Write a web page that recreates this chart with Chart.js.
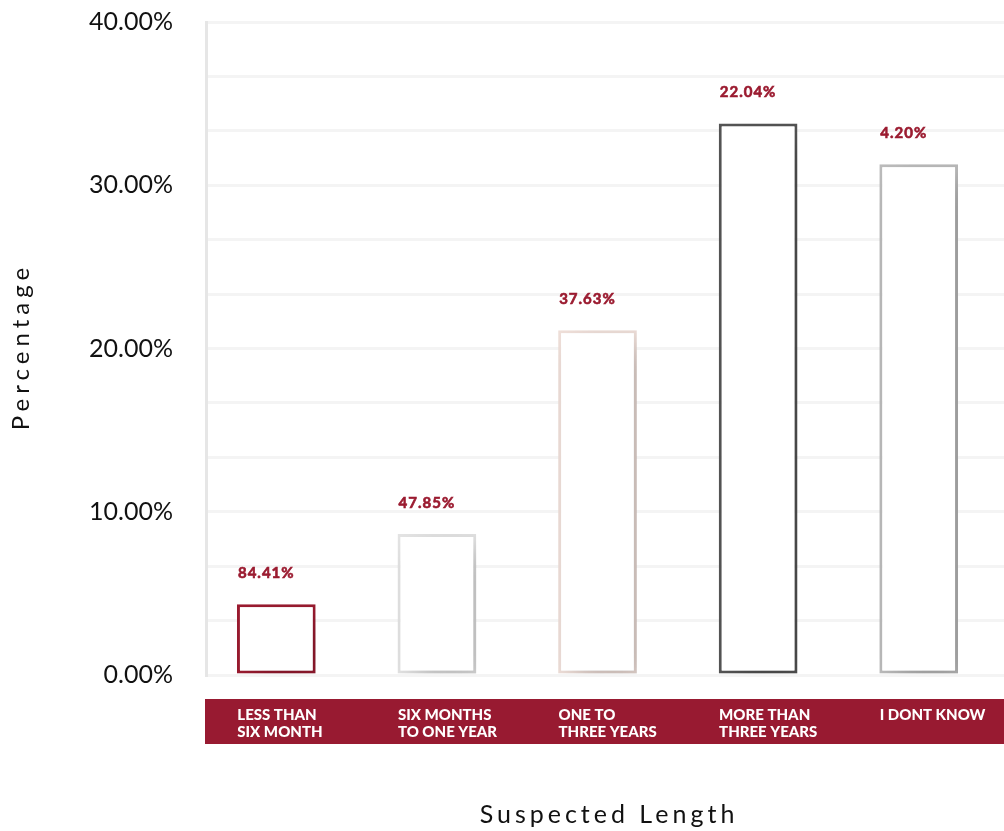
<!DOCTYPE html>
<html>
<head>
<meta charset="utf-8">
<script src="https://cdn.jsdelivr.net/npm/chart.js@4/dist/chart.umd.min.js"></script>
<style>
  html, body { margin: 0; padding: 0; background: #fff; }
  #wrap { width: 1004px; height: 831px; position: relative; }
</style>
</head>
<body>
<div id="wrap"><canvas id="chart"></canvas></div>
<script>
// Data
const categories = [
    ['LESS THAN', 'SIX MONTH'],
    ['SIX MONTHS', 'TO ONE YEAR'],
    ['ONE TO', 'THREE YEARS'],
    ['MORE THAN', 'THREE YEARS'],
    ['I DONT KNOW']
];
const values = [4.33, 8.64, 21.12, 33.79, 31.28];
const valueLabels = ['84.41%', '47.85%', '37.63%', '22.04%', '4.20%'];
const borderColors = ['#9b1b30', '#e4e4e4', '#efdfd9', '#555555', '#bcbcbc'];
const yTickLabels = [0, 10, 20, 30, 40];

const RED = '#981a31';
const FONT = 'Lato, "Noto Sans", sans-serif';

const shadowPlugin = {
    id: 'barShadow',
    beforeDatasetsDraw(chart) {
        const ctx = chart.ctx;
        ctx.save();
        ctx.shadowColor = 'rgba(0,0,0,0.2)';
        ctx.shadowBlur = 30;
        ctx.shadowOffsetX = 14;
        ctx.shadowOffsetY = 12;
    },
    afterDatasetsDraw(chart) {
        chart.ctx.restore();
    }
};

// the bars sit a little left of the y axis line in the original
const xRangePlugin = {
    id: 'xRange',
    afterLayout(chart) {
        const x = chart.scales.x;
        x.left = chart.chartArea.left - 10;
        x.right = chart.chartArea.right - 5;
        x.configure();
    }
};

const bandPlugin = {
    id: 'categoryBand',
    beforeDraw(chart) {
        const { ctx, chartArea } = chart;
        ctx.save();
        ctx.fillStyle = RED;
        ctx.fillRect(chartArea.left - 1, 699, chart.width - chartArea.left + 1, 45);
        ctx.restore();
    }
};

const valueLabelPlugin = {
    id: 'valueLabels',
    afterDatasetsDraw(chart) {
        const ctx = chart.ctx;
        const meta = chart.getDatasetMeta(0);
        ctx.save();
        ctx.font = 'bold 15px ' + FONT;
        ctx.fillStyle = '#9b1b30';
        ctx.strokeStyle = '#9b1b30';
        ctx.lineWidth = 0.6;
        ctx.textBaseline = 'alphabetic';
        ctx.textAlign = 'left';
        ctx.letterSpacing = '1px';
        meta.data.forEach((bar, i) => {
            const x = bar.x - bar.width / 2 + 1;
            ctx.fillText(valueLabels[i], x, bar.y - 26);
            ctx.strokeText(valueLabels[i], x, bar.y - 26);
        });
        ctx.restore();
    }
};

const axisTitlePlugin = {
    id: 'axisTitles',
    afterDraw(chart) {
        const { ctx, chartArea } = chart;
        ctx.save();
        ctx.fillStyle = '#111';
        ctx.textAlign = 'center';
        ctx.textBaseline = 'middle';
        ctx.font = '25px ' + FONT;
        ctx.letterSpacing = '4px';
        ctx.fillText('Suspected Length', (chartArea.left + chartArea.right) / 2 + 4, 815);
        ctx.translate(21, (chartArea.top + chartArea.bottom) / 2 - 2);
        ctx.rotate(-Math.PI / 2);
        ctx.letterSpacing = '5px';
        ctx.font = '24px ' + FONT;
        ctx.fillText('Percentage', 0, 0);
        ctx.restore();
    }
};

new Chart(document.getElementById('chart'), {
    type: 'bar',
    data: {
        labels: categories,
        datasets: [{
            data: values,
            backgroundColor: '#ffffff',
            borderColor: borderColors,
            borderWidth: 3,
            borderSkipped: false,
            categoryPercentage: 1,
            barPercentage: 0.49
        }]
    },
    options: {
        responsive: true,
        maintainAspectRatio: false,
        animation: false,
        layout: { padding: 0 },
        plugins: {
            legend: { display: false },
            tooltip: { enabled: false }
        },
        scales: {
            x: {
                grid: { display: false, drawTicks: false },
                border: { display: false },
                ticks: {
                    color: '#ffffff',
                    font: { family: FONT, size: 15, weight: '900', lineHeight: 1.1 },
                    align: 'start',
                    labelOffset: -39,
                    padding: 32,
                    maxRotation: 0,
                    autoSkip: false
                },
                afterFit(scale) { scale.height = 156; scale.paddingRight = 0; scale.paddingLeft = 0; }
            },
            y: {
                min: 0,
                max: 40,
                grid: { color: '#f4f4f4', lineWidth: 3, drawTicks: false },
                border: { color: '#e6e6e6', width: 3 },
                ticks: {
                    stepSize: 10 / 3,
                    autoSkip: false,
                    padding: 33,
                    color: '#111',
                    font: { family: FONT, size: 25 },
                    callback(v) {
                        const hit = yTickLabels.find(t => Math.abs(t - v) < 1e-6);
                        return hit === undefined ? '' : hit.toFixed(2) + '%';
                    }
                },
                afterFit(scale) {
                    scale.width = 206;
                    scale.paddingTop = 22;
                    scale.paddingBottom = 0;
                }
            }
        }
    },
    plugins: [xRangePlugin, bandPlugin, shadowPlugin, valueLabelPlugin, axisTitlePlugin]
});
</script>
</body>
</html>
